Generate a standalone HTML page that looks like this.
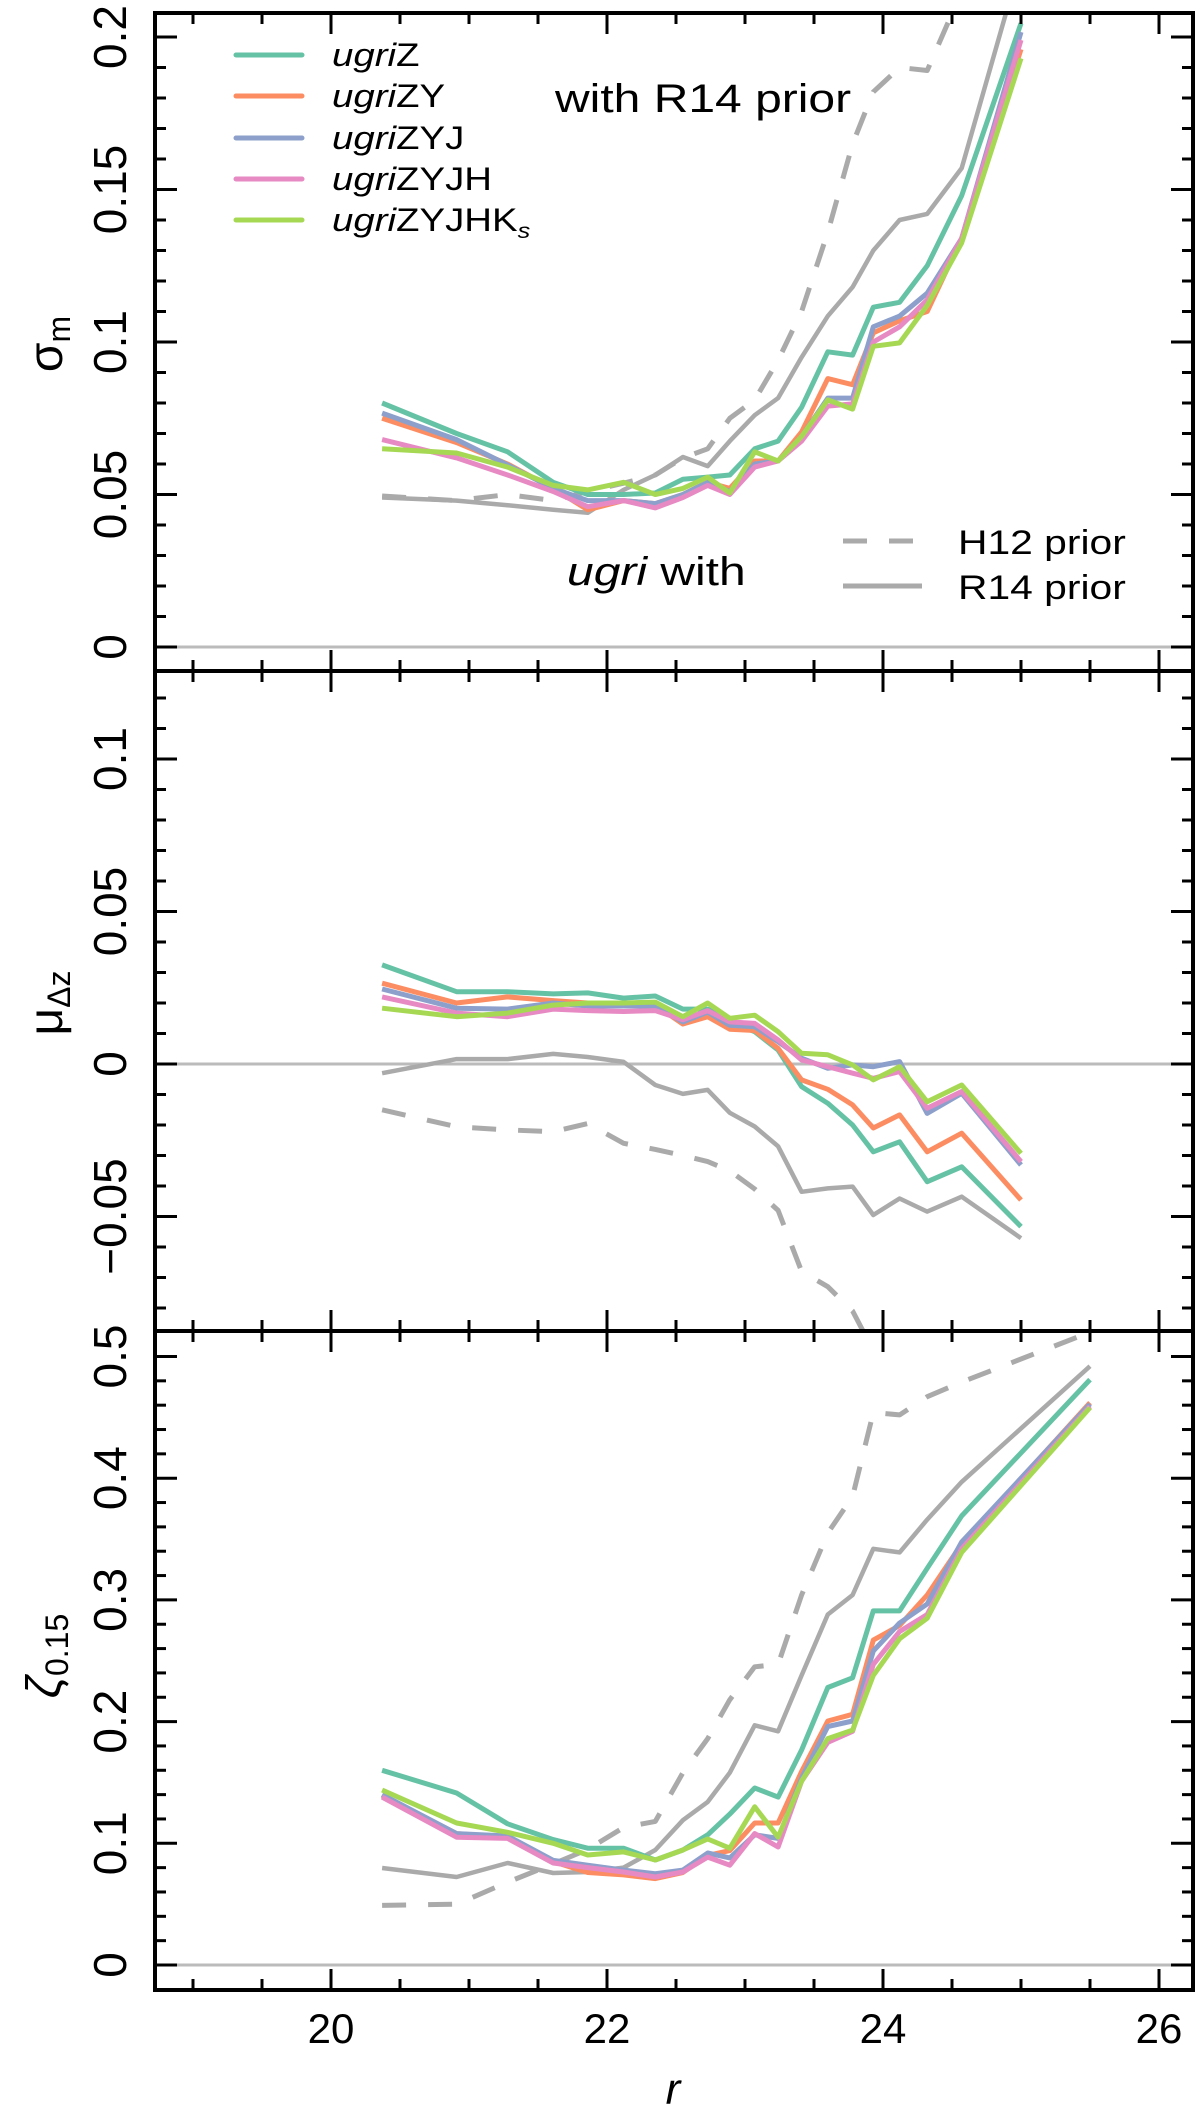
<!DOCTYPE html>
<html><head><meta charset="utf-8">
<style>
html,body{margin:0;padding:0;background:#fff;}
svg{display:block;font-family:"Liberation Sans",sans-serif;}
</style></head>
<body>
<svg id="chart" width="1200" height="2116" viewBox="0 0 1200 2116" xmlns="http://www.w3.org/2000/svg">
<defs>
<clipPath id="c1"><rect x="155" y="13" width="1038" height="658"/></clipPath>
<clipPath id="c2"><rect x="155" y="671" width="1038" height="660"/></clipPath>
<clipPath id="c3"><rect x="155" y="1331" width="1038" height="659"/></clipPath>
</defs>
<g id="grid"></g>
<g id="series"></g>
<g id="ticks"></g>
<g id="frame" fill="none" stroke="#000" stroke-width="4">
<rect x="155" y="13" width="1038" height="1977"/>
<line x1="155" y1="671" x2="1193" y2="671"/>
<line x1="155" y1="1331" x2="1193" y2="1331"/>
</g>
<g id="labels" font-size="46"></g>

<g font-size="32">
<line x1="236" y1="55" x2="302" y2="55" stroke="#66c2a5" stroke-width="5" stroke-linecap="round"/>
<text class="wide" x="332" y="66"><tspan font-style="italic">ugri</tspan>Z</text>
<line x1="236" y1="96" x2="302" y2="96" stroke="#fc8d62" stroke-width="5" stroke-linecap="round"/>
<text class="wide" x="332" y="107"><tspan font-style="italic">ugri</tspan>ZY</text>
<line x1="236" y1="138" x2="302" y2="138" stroke="#8da0cb" stroke-width="5" stroke-linecap="round"/>
<text class="wide" x="332" y="149"><tspan font-style="italic">ugri</tspan>ZYJ</text>
<line x1="236" y1="179" x2="302" y2="179" stroke="#e78ac3" stroke-width="5" stroke-linecap="round"/>
<text class="wide" x="332" y="190"><tspan font-style="italic">ugri</tspan>ZYJH</text>
<line x1="236" y1="220" x2="302" y2="220" stroke="#a6d854" stroke-width="5" stroke-linecap="round"/>
<text class="wide" x="332" y="231"><tspan font-style="italic">ugri</tspan>ZYJHK<tspan font-style="italic" font-size="21" dy="7">s</tspan></text>
</g>
<text class="wide" x="555" y="112" font-size="40">with R14 prior</text>
<text class="wide" x="567" y="585" font-size="40"><tspan font-style="italic">ugri</tspan> with</text>
<g font-size="34">
<line x1="843" y1="541" x2="922" y2="541" stroke="#aaaaaa" stroke-width="5" stroke-dasharray="24,22"/>
<text class="wide" x="958" y="554">H12 prior</text>
<line x1="843" y1="586" x2="922" y2="586" stroke="#aaaaaa" stroke-width="5"/>
<text class="wide" x="958" y="599">R14 prior</text>
</g>
<text x="0" y="0" font-size="44" font-style="italic" text-anchor="middle" transform="translate(673,2104)">r</text>
<text font-size="48" text-anchor="middle" transform="translate(62,344) rotate(-90)">σ<tspan font-size="32" dy="8">m</tspan></text>
<text font-size="48" text-anchor="middle" transform="translate(62,1003) rotate(-90)">μ<tspan font-size="32" dy="8">Δz</tspan></text>
<text font-size="48" text-anchor="middle" transform="translate(60,1656) rotate(-90)"><tspan font-style="italic">ζ</tspan><tspan font-size="32" dy="8">0.15</tspan></text>
</svg>
<script>
const xMag = [20.37,20.91,21.28,21.61,21.86,22.12,22.35,22.55,22.73,22.89,23.07,23.24,23.41,23.6,23.78,23.93,24.12,24.32,24.57,25.0];
const xMag3 = [20.37,20.91,21.28,21.61,21.86,22.12,22.35,22.55,22.73,22.89,23.07,23.24,23.41,23.6,23.78,23.93,24.12,24.32,24.57,25.5];

const sigZ   = [0.080,0.070,0.064,0.054,0.050,0.050,0.0505,0.055,0.0557,0.0564,0.065,0.0675,0.0786,0.0968,0.0957,0.1114,0.113,0.125,0.148,0.2045];
const sigZY  = [0.075,0.067,0.060,0.052,0.045,0.048,0.047,0.050,0.054,0.052,0.061,0.061,0.0705,0.088,0.086,0.103,0.107,0.110,0.134,0.196];
const sigZYJ = [0.0767,0.068,0.0597,0.052,0.048,0.048,0.047,0.050,0.054,0.051,0.060,0.061,0.069,0.0816,0.0816,0.105,0.1085,0.116,0.134,0.2016];
const sigZYJH = [0.068,0.062,0.0564,0.051,0.046,0.048,0.0456,0.049,0.053,0.050,0.059,0.061,0.0675,0.079,0.0797,0.100,0.105,0.1138,0.134,0.199];
const sigZYJHK = [0.065,0.0636,0.059,0.053,0.0515,0.054,0.050,0.052,0.0557,0.0505,0.064,0.061,0.069,0.081,0.078,0.0986,0.0997,0.112,0.1325,0.193];
const sigR14 = [0.049,0.048,0.0465,0.045,0.044,0.0515,0.0564,0.0623,0.0593,0.0675,0.076,0.0816,0.095,0.1085,0.118,0.130,0.140,0.142,0.157,0.225];
const sigH12 = [0.0495,0.048,0.050,0.048,0.051,0.0537,0.0564,0.062,0.065,0.075,0.081,0.094,0.110,0.136,0.165,0.182,0.190,0.189,0.215,0.25];

const muZ   = [0.0325,0.0237,0.0237,0.023,0.0233,0.0216,0.0223,0.018,0.018,0.0138,0.0106,0.0046,-0.0074,-0.0129,-0.020,-0.0288,-0.0255,-0.0386,-0.0337,-0.0533];
const muZY  = [0.0265,0.020,0.022,0.0208,0.020,0.020,0.0193,0.0131,0.0155,0.0114,0.011,0.0051,-0.0052,-0.0083,-0.0134,-0.021,-0.0167,-0.0288,-0.0227,-0.0446];
const muZYJ = [0.0246,0.0183,0.018,0.020,0.019,0.019,0.019,0.0138,0.017,0.0127,0.0122,0.0073,0.0019,-0.0014,-0.0003,-0.0009,0.0008,-0.0162,-0.0096,-0.0331];
const muZYJH = [0.022,0.0167,0.0155,0.018,0.0175,0.0172,0.0175,0.0145,0.0175,0.0138,0.0133,0.0079,0.0013,-0.0009,-0.003,-0.0047,-0.0025,-0.0145,-0.009,-0.032];
const muZYJHK = [0.0183,0.0155,0.0167,0.0193,0.020,0.020,0.0203,0.0155,0.020,0.015,0.016,0.0106,0.0035,0.003,-0.0003,-0.0052,-0.0009,-0.0124,-0.0069,-0.0293];
const muR14 = [-0.003,0.0016,0.0016,0.0033,0.0023,0.0007,-0.0069,-0.0098,-0.0085,-0.016,-0.0205,-0.027,-0.0419,-0.0408,-0.0402,-0.0495,-0.0441,-0.0484,-0.0435,-0.0571];
const muH12 = [-0.015,-0.0206,-0.0216,-0.0222,-0.0195,-0.026,-0.028,-0.030,-0.032,-0.035,-0.041,-0.048,-0.068,-0.073,-0.081,-0.094,-0.11,-0.12,-0.13,-0.15];

const zetaZ   = [0.160,0.1413,0.116,0.103,0.096,0.096,0.0863,0.0945,0.107,0.124,0.1454,0.138,0.1767,0.228,0.236,0.291,0.291,0.326,0.369,0.481];
const zetaZY  = [0.139,0.108,0.105,0.085,0.076,0.074,0.071,0.076,0.090,0.094,0.1167,0.1167,0.159,0.2005,0.206,0.267,0.279,0.304,0.346,0.462];
const zetaZYJ = [0.140,0.108,0.106,0.086,0.082,0.078,0.075,0.078,0.092,0.088,0.107,0.104,0.1537,0.196,0.2005,0.258,0.281,0.2966,0.3476,0.461];
const zetaZYJH = [0.138,0.105,0.104,0.0838,0.080,0.0764,0.0723,0.0764,0.0887,0.082,0.108,0.097,0.151,0.183,0.192,0.247,0.274,0.288,0.342,0.459];
const zetaZYJHK = [0.1438,0.1167,0.109,0.100,0.0904,0.0929,0.0863,0.0945,0.1035,0.096,0.130,0.105,0.151,0.186,0.193,0.238,0.268,0.285,0.339,0.458];
const zetaR14 = [0.0797,0.0723,0.0838,0.0756,0.0764,0.080,0.0945,0.119,0.134,0.158,0.197,0.192,0.238,0.288,0.304,0.342,0.339,0.366,0.397,0.492];
const zetaH12 = [0.049,0.050,0.068,0.083,0.095,0.113,0.118,0.158,0.186,0.218,0.245,0.247,0.304,0.355,0.385,0.454,0.452,0.467,0.479,0.52];

const xTickLabels = ["20","22","24","26"];
const p1TickLabels = ["0","0.05","0.1","0.15","0.2"];
const p2TickLabels = ["\u22120.05","0","0.05","0.1"];
const p3TickLabels = ["0","0.1","0.2","0.3","0.4","0.5"];

const NS = "http://www.w3.org/2000/svg";
const X = v => 331 + (v - 20) * 138;
const panels = [
  {top:13, bot:671, y0:647, k:3050, clip:"c1", name:"sigma"},
  {top:671, bot:1331, y0:1064, k:3050, clip:"c2", name:"mu"},
  {top:1331, bot:1990, y0:1965, k:1217, clip:"c3", name:"zeta"}
];
const Y = (p, v) => p.y0 - v * p.k;
const mk = (tag, attrs, parent) => { const e = document.createElementNS(NS, tag); for (const a in attrs) e.setAttribute(a, attrs[a]); parent.appendChild(e); return e; };

const gSeries = document.getElementById('series');
const gGrid = document.getElementById('grid');
const gTicks = document.getElementById('ticks');
const gLabels = document.getElementById('labels');

panels.forEach(p => {
  const zl = mk('line', {x1:155, x2:1193, y1:Y(p,0), y2:Y(p,0), stroke:"#bbbbbb", "stroke-width":3}, gGrid);
  
  
});

const colors = ["#66c2a5","#fc8d62","#8da0cb","#e78ac3","#a6d854"];
const names = ["ugriZ","ugriZY","ugriZYJ","ugriZYJH","ugriZYJHKs"];
const sets = [
  {p:panels[0], xs:xMag, col:[sigZ,sigZY,sigZYJ,sigZYJH,sigZYJHK], r14:sigR14, h12:sigH12},
  {p:panels[1], xs:xMag, col:[muZ,muZY,muZYJ,muZYJH,muZYJHK], r14:muR14, h12:muH12},
  {p:panels[2], xs:xMag3, col:[zetaZ,zetaZY,zetaZYJ,zetaZYJH,zetaZYJHK], r14:zetaR14, h12:zetaH12}
];
function pathFor(p, xs, vs) { return vs.map((v,i) => (i ? "L" : "M") + X(xs[i]).toFixed(1) + "," + Y(p,v).toFixed(1)).join(" "); }
sets.forEach(s => {
  const g = mk('g', {"clip-path":"url(#" + s.p.clip + ")", fill:"none", "stroke-linejoin":"round"}, gSeries);
  
  
  const d = mk('path', {d:pathFor(s.p, s.xs, s.h12), stroke:"#aaaaaa", "stroke-width":5, "stroke-dasharray":"24,22"}, g);
  
  
  const r = mk('path', {d:pathFor(s.p, s.xs, s.r14), stroke:"#aaaaaa", "stroke-width":4.5}, g);
  
  
  s.col.forEach((vs, i) => {
    const l = mk('path', {d:pathFor(s.p, s.xs, vs), stroke:colors[i], "stroke-width":5}, g);
    
    
  });
});

panels.forEach(p => {
  for (let v = 19; v <= 26.001; v += 0.5) {
    const major = Math.abs(v/2 - Math.round(v/2)) < 1e-6;
    const len = major ? 21 : 11;
    const x = X(v);
    const t1 = mk('line', {x1:x, x2:x, y1:p.bot, y2:p.bot-len, stroke:"#000", "stroke-width":3}, gTicks);
    
    
    const t2 = mk('line', {x1:x, x2:x, y1:p.top, y2:p.top+len, stroke:"#000", "stroke-width":3}, gTicks);
    
    
  }
});
xTickLabels.forEach(s => {
  const t = mk('text', {x:X(+s), y:2043, "font-size":42, "text-anchor":"middle"}, gLabels);
  t.textContent = s;
  
  
});

function yTicks(p, lo, hi, minorStep, majorStep, labels) {
  const n = Math.round((hi - lo) / minorStep);
  for (let i = 0; i <= n; i++) {
    const v = lo + i * minorStep;
    const y = Y(p, v);
    if (y < p.top + 2 || y > p.bot - 2) continue;
    const major = Math.abs(v/majorStep - Math.round(v/majorStep)) < 1e-6;
    const len = major ? 22 : 11;
    const a = mk('line', {x1:155, x2:155+len, y1:y, y2:y, stroke:"#000", "stroke-width":3}, gTicks);
    
    
    const b = mk('line', {x1:1193, x2:1193-len, y1:y, y2:y, stroke:"#000", "stroke-width":3}, gTicks);
    
    
  }
  labels.forEach(s => {
    const v = parseFloat(s.replace("\u2212", "-"));
    const y = Y(p, v);
    const t = mk('text', {"text-anchor":"middle", transform:"translate(126," + y.toFixed(1) + ") rotate(-90)"}, gLabels);
    t.textContent = s;
    
    
  });
}
yTicks(panels[0], -0.01, 0.21, 0.01, 0.05, p1TickLabels);
yTicks(panels[1], -0.09, 0.13, 0.01, 0.05, p2TickLabels);
yTicks(panels[2], -0.02, 0.52, 0.02, 0.1, p3TickLabels);

// widen annotation text to match the reference's wider face
document.querySelectorAll('text.wide').forEach(t => {
  const w = t.getComputedTextLength();
  t.setAttribute('textLength', (w * 1.2).toFixed(1));
  t.setAttribute('lengthAdjust', 'spacingAndGlyphs');
});
</script>
</body></html>
